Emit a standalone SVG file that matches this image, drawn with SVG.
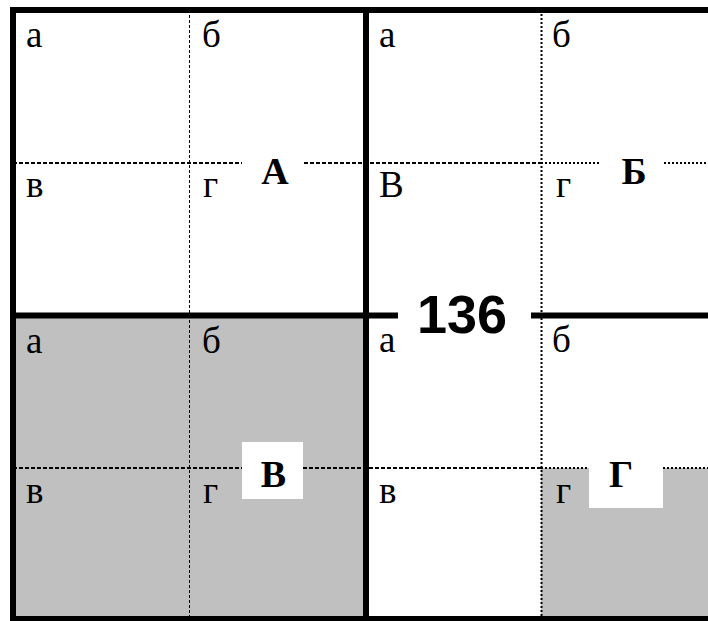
<svg xmlns="http://www.w3.org/2000/svg" width="708" height="621" viewBox="0 0 708 621">
<style>
.bg{fill:#ffffff}
.gray{fill:#c0c0c0}
.hole{fill:#ffffff}
.thick{stroke:#000;stroke-width:6;fill:none}
.dl{stroke:#000;stroke-width:1;stroke-dasharray:3 2;fill:none}
.dh{stroke:#000;stroke-width:2;stroke-dasharray:4 2;fill:none}
.dt{stroke:#000;stroke-width:2;stroke-dasharray:2 2;fill:none}
.dv{stroke:#000;stroke-width:2;stroke-dasharray:2 2;fill:none}
.s{font-family:"Liberation Serif","Times New Roman",serif;font-size:37px;fill:#000}
.b{font-family:"Liberation Serif","Times New Roman",serif;font-size:38px;font-weight:bold;fill:#000;text-anchor:middle}
.n{font-family:"Liberation Sans",Arial,sans-serif;font-size:54px;font-weight:bold;fill:#000;text-anchor:middle}
</style>
<rect class="bg" x="0" y="0" width="708" height="621"/>

<g id="quad-V">
<rect class="gray" x="13" y="315" width="353" height="304"/>
<rect class="hole" x="242" y="442" width="61" height="57"/>
</g>
<g id="quad-G">
<polygon class="gray" points="541,468 589,468 589,508 663,508 663,468 708,468 708,619 541,619"/>
</g>

<g id="grid-lines">
<line class="dl" x1="189.5" y1="10" x2="189.5" y2="619"/>
<line class="dv" x1="541.5" y1="10" x2="541.5" y2="619"/>
<line class="dh" x1="13" y1="163" x2="242" y2="163"/>
<line class="dh" x1="304" y1="163" x2="541" y2="163"/>
<line class="dt" x1="541" y1="163" x2="599" y2="163"/>
<line class="dt" x1="664" y1="163" x2="708" y2="163"/>
<line class="dh" x1="13" y1="468" x2="242" y2="468"/>
<line class="dh" x1="303" y1="468" x2="541" y2="468"/>
<line class="dt" x1="541" y1="468" x2="589" y2="468"/>
<line class="dt" x1="663" y1="468" x2="708" y2="468"/>
<line class="thick" x1="10" y1="10" x2="708" y2="10"/>
<line class="thick" x1="13" y1="7" x2="13" y2="621"/>
<line class="thick" x1="10" y1="619" x2="708" y2="619"/>
<line class="thick" x1="366" y1="10" x2="366" y2="619"/>
<line class="thick" x1="13" y1="315.5" x2="398" y2="315.5"/>
<line class="thick" x1="531" y1="315.5" x2="708" y2="315.5"/>
</g>

<g id="node-A">
<text class="s" x="26" y="47">а</text>
<text class="s" x="202" y="47">б</text>
<text class="s" x="26" y="197">в</text>
<text class="s" x="203" y="197">г</text>
<text class="b" x="275" y="184">А</text>
</g>
<g id="node-B">
<text class="s" x="379" y="47">а</text>
<text class="s" x="552" y="47">б</text>
<text class="s" x="379" y="197">В</text>
<text class="s" x="556" y="197">г</text>
<text class="b" x="634" y="184">Б</text>
</g>
<g id="node-V">
<text class="s" x="26" y="353">а</text>
<text class="s" x="202" y="353">б</text>
<text class="s" x="26" y="503">в</text>
<text class="s" x="203" y="503">г</text>
<text class="b" x="273.5" y="487">В</text>
</g>
<g id="node-G">
<text class="s" x="379" y="352">а</text>
<text class="s" x="552" y="352">б</text>
<text class="s" x="379" y="503">в</text>
<text class="s" x="556" y="503">г</text>
<text class="b" x="621" y="487">Г</text>
</g>
<g id="label-136">
<text class="n" x="462" y="333">136</text>
</g>
</svg>
